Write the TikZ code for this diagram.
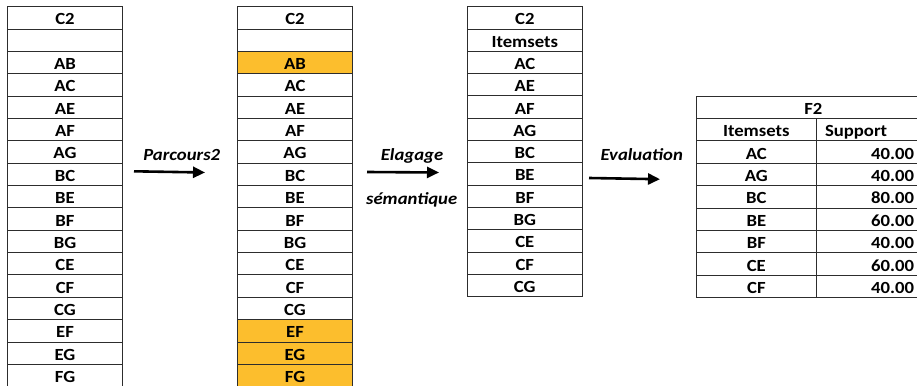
\documentclass[tikz,border=0pt]{standalone}
\usepackage{fontspec}
\setmainfont{Carlito}[FakeStretch=1.1]
\usetikzlibrary{arrows.meta}
\definecolor{hl}{RGB}{252,190,45}
\definecolor{gridc}{RGB}{45,45,45}
\tikzset{
  cell/.style={draw=gridc, line width=0.9pt, minimum height=22.35pt, inner sep=0pt,
    text height=14pt, text depth=0pt,
    font=\fontsize{17}{17}\selectfont\bfseries, text=black, anchor=center},
  lbl/.style={font=\fontsize{17}{17}\selectfont\bfseries\itshape, text=black, inner sep=0pt},
  arr/.style={line width=2.6pt, -{Triangle[length=12pt,width=11pt]}}
}
\begin{document}
\begin{tikzpicture}[x=1pt,y=-1pt]
\useasboundingbox (0,0) rectangle (917,385);
\clip (0,0) rectangle (917,385);
% table 1
\foreach \t [count=\i] in {C2,{},AB,AC,AE,AF,AG,BC,BE,BF,BG,CE,CF,CG,EF,EG,FG}
  \node[cell, minimum width=115.4pt] (ta\i) at (65, 6.7+22.35*\i-11.175) {\t};
% table 2
\foreach \t/\f [count=\i] in {C2/white,{}/white,AB/hl,AC/white,AE/white,AF/white,AG/white,BC/white,BE/white,BF/white,BG/white,CE/white,CF/white,CG/white,EF/hl,EG/hl,FG/hl}
  \node[cell, fill=\f, minimum width=115.4pt] (tb\i) at (295, 6.7+22.35*\i-11.175) {\t};
% table 3
\foreach \t [count=\i] in {C2,Itemsets,AC,AE,AF,AG,BC,BE,BF,BG,CE,CF,CG}
  \node[cell, minimum width=115pt, minimum height=22.3pt] (tc\i) at (524.8, 6.7+22.3*\i-11.15) {\t};
% table 4
\node[cell, minimum width=233.3pt, minimum height=22.4pt] (fh) at (813.35, 107.2) {F2};
\foreach \t [count=\i] in {Itemsets,AC,AG,BC,BE,BF,CE,CF}
  \node[cell, minimum width=119.3pt, minimum height=22.4pt] (fi\i) at (756.35, 96+22.4*\i+11.2) {\t};
\node[cell, minimum height=22.4pt, text width=96pt, inner xsep=9pt, align=left] (fs1) at (873, 129.6) {Support};
\foreach \v [count=\i from 2] in {40.00,40.00,80.00,60.00,40.00,60.00,40.00}
  \node[cell, minimum height=22.4pt, text width=82pt, inner xsep=16pt, align=right] (fs\i) at (873, 96+22.4*\i+11.2) {\v};
% arrows
\coordinate (a1s) at (134,171.3); \coordinate (a1e) at (205,172.5);
\coordinate (a2s) at (367,172);   \coordinate (a2e) at (439,172.5);
\coordinate (a3s) at (589,178);   \coordinate (a3e) at (660,179.2);
\draw[arr] (a1s) -- (a1e);
\draw[arr] (a2s) -- (a2e);
\draw[arr] (a3s) -- (a3e);
\node[lbl] (l1) at (181.7,155) {Parcours2};
\node[lbl] (l2) at (412,155.5) {Elagage};
\node[lbl] (l3) at (411.7,199.5) {sémantique};
\node[lbl] (l4) at (641.7,155) {Evaluation};
\end{tikzpicture}
\end{document}
